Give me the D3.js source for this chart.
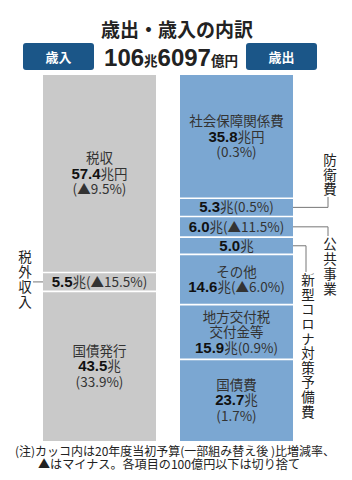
<!DOCTYPE html>
<html>
<head>
<meta charset="utf-8">
<script src="https://cdn.jsdelivr.net/npm/d3@7"></script>
<style>
  body { margin: 0; background: #fff; }
  svg { display: block; font-family: "Noto Sans CJK JP", "Noto Sans", sans-serif; }
  .num { font-family: "Liberation Sans", "Noto Sans CJK JP", sans-serif; }
</style>
</head>
<body>
<svg width="352" height="480"></svg>
<script>
// 歳入 (revenue), top to bottom, 兆円
var revenueNames  = ["税収", "税外収入", "国債発行"];
var revenueValues = [57.4, 5.5, 43.5];
var revenueChange = ["▲9.5%", "▲15.5%", "33.9%"];

// 歳出 (expenditure), top to bottom, 兆円
var expenseNames  = ["社会保障関係費", "防衛費", "公共事業", "新型コロナ対策予備費", "その他", "地方交付税交付金等", "国債費"];
var expenseValues = [35.8, 5.3, 6.0, 5.0, 14.6, 15.9, 23.7];
var expenseChange = ["0.3%", "0.5%", "▲11.5%", null, "▲6.0%", "0.9%", "1.7%"];

var totalLabel = ["106", "兆", "6097", "億円"];
var noteLines = [
  "(注)カッコ内は20年度当初予算(一部組み替え後 )比増減率、",
  "▲はマイナス。各項目の100億円以下は切り捨て"
];

var svg = d3.select("svg");
var barTop = 75, barBottom = 441;
var textColor = "#222";

// title
svg.append("text")
   .attr("x", 177).attr("y", 37)
   .attr("text-anchor", "middle")
   .style("font-size", "19px").style("font-weight", "bold")
   .attr("fill", textColor)
   .text("歳出・歳入の内訳");

// header boxes
[["歳入", 23], ["歳出", 246]].forEach(function (b) {
  svg.append("rect")
     .attr("x", b[1]).attr("y", 43).attr("width", 71).attr("height", 27)
     .attr("rx", 3).attr("fill", "#1b5688");
  svg.append("text")
     .attr("x", b[1] + 35.5).attr("y", 61.5)
     .attr("text-anchor", "middle")
     .style("font-size", "13px").style("font-weight", "bold")
     .attr("fill", "#fff")
     .text(b[0]);
});

var total = svg.append("text")
   .attr("x", 171).attr("y", 66)
   .attr("text-anchor", "middle")
   .attr("fill", textColor)
   .style("font-weight", "bold");
total.selectAll("tspan")
     .data(totalLabel)
     .enter().append("tspan")
     .attr("class", function (d, i) { return i % 2 === 0 ? "num" : null; })
     .style("font-size", function (d, i) { return i % 2 === 0 ? "24px" : "13.5px"; })
     .text(function (d) { return d; });

function drawBar(names, values, change, x0, x1, color, lines) {
  var sum = d3.sum(values);
  var y = d3.scaleLinear().domain([0, sum]).range([barTop, barBottom]);
  var ends = Array.from(d3.cumsum(values));
  var segs = values.map(function (v, i) {
    return {name: names[i], v: v, c: change[i], y0: ends[i] - v, y1: ends[i], i: i};
  });

  svg.append("g").selectAll("rect")
     .data(segs).enter().append("rect")
     .attr("x", x0).attr("width", x1 - x0)
     .attr("y", function (d) { return y(d.y0); })
     .attr("height", function (d) { return y(d.y1) - y(d.y0); })
     .attr("fill", color);

  // white separators
  svg.append("g").selectAll("line")
     .data(segs.slice(1)).enter().append("line")
     .attr("x1", x0).attr("x2", x1)
     .attr("y1", function (d) { return y(d.y0); })
     .attr("y2", function (d) { return y(d.y0); })
     .attr("stroke", "#fff").attr("stroke-width", 1.6);

  var cx = (x0 + x1) / 2;
  segs.forEach(function (d) {
    var rows = lines(d);
    var mid = (y(d.y0) + y(d.y1)) / 2;
    var lh = 15.5;
    rows.forEach(function (spans, k) {
      var t = svg.append("text")
         .attr("x", cx)
         .attr("y", mid + (k - (rows.length - 1) / 2) * lh + 5)
         .attr("text-anchor", "middle")
         .attr("fill", textColor)
         .style("font-size", "13.5px");
      spans.forEach(function (s) {
        t.append("tspan")
         .attr("class", s[1] ? "num" : null)
         .style("font-weight", s[1] ? "bold" : "normal")
         .style("font-size", s[1] ? "15px" : "13.5px")
         .attr("fill", s[1] ? "#111" : "#333")
         .text(s[0]);
      });
    });
  });
  return y;
}

var yRev = drawBar(revenueNames, revenueValues, revenueChange, 43, 156, "#c9c9c9", function (d) {
  if (d.i === 1) return [[[d.v.toFixed(1), true], ["兆(" + d.c + ")"]]];
  return [[[d.name]], [[d.v.toFixed(1), true], [d.i === 0 ? "兆円" : "兆"]], [["(" + d.c + ")"]]];
});

var yExp = drawBar(expenseNames, expenseValues, expenseChange, 180, 293, "#7ba7d2", function (d) {
  if (d.i === 0) return [[[d.name]], [[d.v.toFixed(1), true], ["兆円"]], [["(" + d.c + ")"]]];
  if (d.i === 3) return [[[d.v.toFixed(1), true], ["兆"]]];
  if (d.i === 1 || d.i === 2) return [[[d.v.toFixed(1), true], ["兆(" + d.c + ")"]]];
  if (d.i === 4) return [[[d.name]], [[d.v.toFixed(1), true], ["兆(" + d.c + ")"]]];
  if (d.i === 5) return [[["地方交付税"]], [["交付金等"]], [[d.v.toFixed(1), true], ["兆(" + d.c + ")"]]];
  return [[[d.name]], [[d.v.toFixed(1), true], ["兆"]], [["(" + d.c + ")"]]];
});

// vertical side labels (one text each, vertical writing) with leader lines
function vertical(label, x, yStart, step) {
  var fs = 13.5;
  svg.append("text")
     .attr("x", x)
     .attr("y", yStart - fs / 2)
     .attr("fill", textColor)
     .style("writing-mode", "vertical-rl")
     .style("font-size", fs + "px")
     .style("letter-spacing", (step - fs) + "px")
     .text(label);
}
function leader(points) {
  svg.append("path")
     .attr("d", d3.line()(points))
     .attr("fill", "none")
     .attr("stroke", "#777").attr("stroke-width", 1);
}
function segMid(y, values, i) {
  var ends = Array.from(d3.cumsum(values));
  return (y(ends[i] - values[i]) + y(ends[i])) / 2;
}

vertical(revenueNames[1], 25, 257, 15);
leader([[33, segMid(yRev, revenueValues, 1)], [43, segMid(yRev, revenueValues, 1)]]);

vertical(expenseNames[1], 330, 160, 14.5);
var m1 = segMid(yExp, expenseValues, 1);
leader([[293, m1], [328, m1], [328, 197]]);

vertical(expenseNames[2], 330, 244, 15);
var m2 = segMid(yExp, expenseValues, 2);
leader([[293, m2], [328, m2], [328, 236]]);

vertical(expenseNames[3], 308, 280, 14.6);
var m3 = segMid(yExp, expenseValues, 3);
leader([[293, m3], [306, m3], [306, 272]]);

// footnote
svg.append("text")
   .attr("x", 15).attr("y", 456)
   .attr("fill", textColor).style("font-size", "12px")
   .attr("textLength", 320).attr("lengthAdjust", "spacingAndGlyphs")
   .text(noteLines[0]);
svg.append("text")
   .attr("x", 38).attr("y", 469)
   .attr("fill", textColor).style("font-size", "12px")
   .attr("textLength", 262).attr("lengthAdjust", "spacingAndGlyphs")
   .text(noteLines[1]);
</script>
</body>
</html>
